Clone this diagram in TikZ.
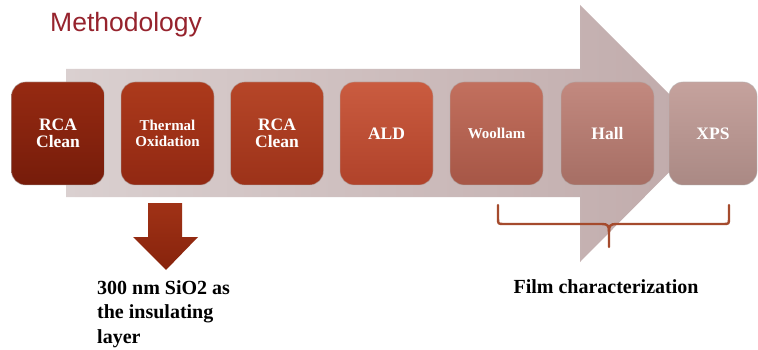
\documentclass[tikz,border=0pt]{standalone}
\usepackage{fontspec}
\setmainfont{Liberation Serif}
\newfontfamily\arialf{Liberation Sans}
\usetikzlibrary{calc}
\definecolor{titlered}{RGB}{150,35,45}
\definecolor{arrowL}{RGB}{218,208,208}
\definecolor{arrowR}{RGB}{192,170,170}
\definecolor{braceC}{RGB}{165,75,45}
\definecolor{cAt}{RGB}{150,42,18}\definecolor{cAb}{RGB}{118,28,10}
\definecolor{cBt}{RGB}{172,58,28}\definecolor{cBb}{RGB}{145,40,18}
\definecolor{cCt}{RGB}{182,70,40}\definecolor{cCb}{RGB}{156,50,25}
\definecolor{cDt}{RGB}{202,92,64}\definecolor{cDb}{RGB}{176,66,42}
\definecolor{cEt}{RGB}{194,112,94}\definecolor{cEb}{RGB}{166,86,70}
\definecolor{cFt}{RGB}{194,137,127}\definecolor{cFb}{RGB}{166,110,100}
\definecolor{cGt}{RGB}{197,162,157}\definecolor{cGb}{RGB}{170,137,132}
\definecolor{downT}{RGB}{160,50,22}\definecolor{downB}{RGB}{135,35,12}
\tikzset{
  stepbox/.style={rounded corners=14pt, minimum width=93pt, minimum height=103pt,
    inner sep=0pt, align=center, text=white, draw=white!70!black, draw opacity=0.5, line width=0.8pt},
  big/.style={font=\bfseries\fontsize{17.5}{17}\selectfont},
  small/.style={font=\bfseries\fontsize{15}{16.5}\selectfont},
  note/.style={font=\bfseries\fontsize{20}{24.5}\selectfont, text=black, inner sep=0pt},
}
\begin{document}
\begin{tikzpicture}[x=1pt,y=-1pt]
\useasboundingbox (0,0) rectangle (758,350);
\fill[white] (0,0) rectangle (758,350);
% big arrow
\shade[left color=arrowL, right color=arrowR]
  (66,69) -- (580,69) -- (580,5) -- (708,133) -- (580,262) -- (580,197) -- (66,197) -- cycle;
% title
\node[anchor=base west, inner sep=0pt, text=titlered, font=\arialf\fontsize{26.5}{26.5}\selectfont] (title) at (50,32) {Methodology};
% boxes
\node[stepbox, big, top color=cAt, bottom color=cAb] (b1) at (58,133.5) {RCA\\Clean};
\node[stepbox, small, top color=cBt, bottom color=cBb] (b2) at (167.5,133.5) {Thermal\\Oxidation};
\node[stepbox, big, top color=cCt, bottom color=cCb] (b3) at (277,133.5) {RCA\\Clean};
\node[stepbox, big, top color=cDt, bottom color=cDb] (b4) at (386.5,133.5) {ALD};
\node[stepbox, small, top color=cEt, bottom color=cEb] (b5) at (496.5,133.5) {Woollam};
\node[stepbox, big, top color=cFt, bottom color=cFb] (b6) at (607.5,133.5) {Hall};
\node[stepbox, big, top color=cGt, bottom color=cGb, minimum width=88pt] (b7) at (713,133.5) {XPS};
% down arrow
\shade[top color=downT, bottom color=downB]
  (148,203) -- (182,203) -- (182,237) -- (198,237) -- (166,270) -- (133,237) -- (148,237) -- cycle;
% note
\node[note, anchor=north west, align=left] (n1) at (97,280) {300 nm SiO2 as\\the insulating\\layer};
% brace
\draw[braceC, line width=2.4pt, line cap=round, line join=round]
  (498,205) -- (498,218) .. controls (498,224) .. (504,224) -- (602,224)
  .. controls (608,224) and (609,226) .. (609,232) -- (609,247);
\draw[braceC, line width=2.4pt, line cap=round, line join=round]
  (729,205) -- (729,218) .. controls (729,224) .. (723,224) -- (616,224)
  .. controls (610,224) and (609,226) .. (609,232);
\node[note, anchor=base] (film) at (606,293) {Film characterization};
\end{tikzpicture}
\end{document}
